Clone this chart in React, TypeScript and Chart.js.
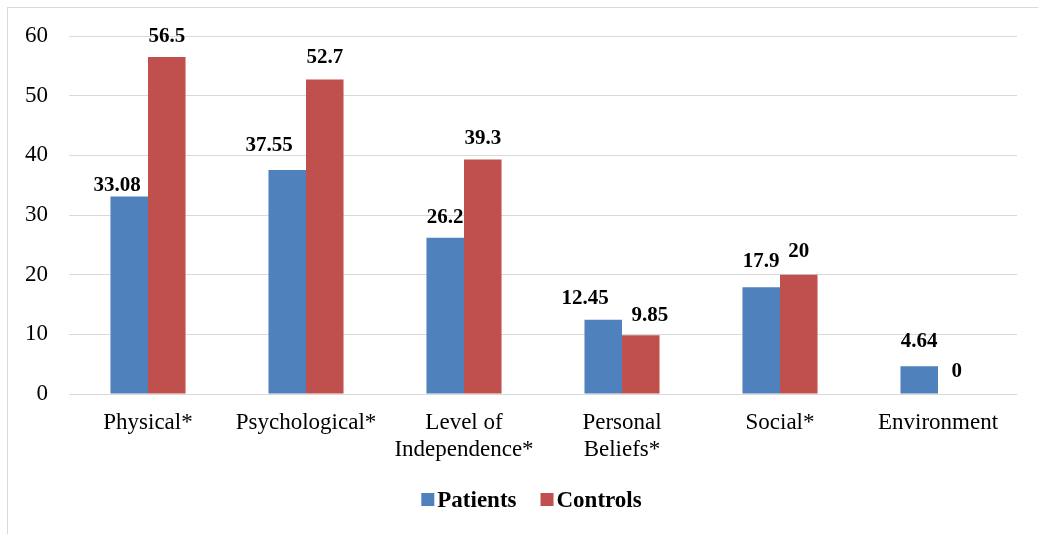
import React, { useEffect, useRef } from "react";
import { Chart, registerables } from "chart.js";

Chart.register(...registerables);

const CATEGORIES: (string | string[])[] = [
  "Physical*",
  "Psychological*",
  ["Level of", "Independence*"],
  ["Personal", "Beliefs*"],
  "Social*",
  "Environment",
];
const PATIENTS = [33.08, 37.55, 26.2, 12.45, 17.9, 4.64];
const CONTROLS = [56.5, 52.7, 39.3, 9.85, 20, 0];
const SERIES_NAMES = ["Patients", "Controls"];
const Y_MIN = 0;
const Y_MAX = 60;
const Y_STEP = 10;

// label nudges (style only): horizontal shift and gap above bar top
const LABEL_DX = [
  [-12, -18, 0, -18, 0, 0],
  [0, 0, 0, 9, 0, 0],
];
const LABEL_GAP = [
  [6, 19, 15, 16, 20, 19],
  [15, 17, 16, 14, 18, 17],
];

const FONT = "'Liberation Serif', 'Times New Roman', serif";
const BLUE = "#4F81BD";
const RED = "#C0504D";

const dataLabelPlugin = {
  id: "dataLabels",
  afterDatasetsDraw(chart: any) {
    const ctx = chart.ctx;
    ctx.save();
    ctx.font = `bold 21px ${FONT}`;
    ctx.fillStyle = "#000";
    ctx.textAlign = "center";
    ctx.textBaseline = "alphabetic";
    chart.data.datasets.forEach((ds: any, di: number) => {
      const meta = chart.getDatasetMeta(di);
      meta.data.forEach((el: any, i: number) => {
        const v = ds.data[i];
        ctx.fillText(String(v), el.x + LABEL_DX[di][i], el.y - LABEL_GAP[di][i]);
      });
    });
    ctx.restore();
  },
};

const legendPlugin = {
  id: "customLegend",
  afterDraw(chart: any) {
    const ctx = chart.ctx;
    ctx.save();
    ctx.font = `bold 23px ${FONT}`;
    ctx.textBaseline = "alphabetic";
    ctx.textAlign = "left";
    const box = 13;
    const gap = 3;
    const spacing = 24;
    const items = chart.data.datasets.map((ds: any) => ({
      text: ds.label,
      color: ds.backgroundColor,
      w: ctx.measureText(ds.label).width,
    }));
    let total = 0;
    items.forEach((it: any, i: number) => {
      total += box + gap + it.w + (i > 0 ? spacing : 0);
    });
    let x = 531.5 - total / 2;
    const baseline = 507;
    items.forEach((it: any) => {
      ctx.fillStyle = it.color;
      ctx.fillRect(x, 493, box, box);
      x += box + gap;
      ctx.fillStyle = "#000";
      ctx.fillText(it.text, x, baseline);
      x += it.w + spacing;
    });
    ctx.restore();
  },
};

export default function App() {
  const ref = useRef<HTMLCanvasElement | null>(null);

  useEffect(() => {
    document.body.style.overflow = "hidden";
    const canvas = ref.current!;
    const chart = new Chart(canvas, {
      type: "bar",
      data: {
        labels: CATEGORIES,
        datasets: [
          {
            label: SERIES_NAMES[0],
            data: PATIENTS,
            backgroundColor: BLUE,
            borderWidth: 0,
            categoryPercentage: 0.475,
            barPercentage: 1,
          },
          {
            label: SERIES_NAMES[1],
            data: CONTROLS,
            backgroundColor: RED,
            borderWidth: 0,
            categoryPercentage: 0.475,
            barPercentage: 1,
          },
        ],
      },
      options: {
        responsive: false,
        animation: false,
        devicePixelRatio: 1,
        layout: { padding: { left: 0, right: 21, top: 36, bottom: 60 } },
        plugins: {
          legend: { display: false },
          tooltip: { enabled: false },
        },
        scales: {
          x: {
            grid: { display: false, drawTicks: false },
            border: { display: false },
            ticks: {
              color: "#000",
              padding: 16,
              maxRotation: 0,
              autoSkip: false,
              font: { family: FONT, size: 23, lineHeight: 1.15 },
            },
            afterFit: (s: any) => {
              s.height = 80;
            },
          },
          y: {
            min: Y_MIN,
            max: Y_MAX,
            ticks: {
              stepSize: Y_STEP,
              color: "#000",
              padding: 21,
              font: { family: FONT, size: 23 },
            },
            grid: { color: "#D9D9D9", lineWidth: 1, drawTicks: false },
            border: { display: false },
            afterFit: (s: any) => {
              s.width = 69;
            },
          },
        },
      },
      plugins: [dataLabelPlugin, legendPlugin],
    });
    return () => chart.destroy();
  }, []);

  return (
    <div style={{ position: "fixed", left: 0, top: 0, width: 1038, height: 534, overflow: "hidden", background: "#fff" }}>
      <div
        style={{
          position: "absolute",
          left: 7,
          top: 7,
          width: 1200,
          height: 800,
          border: "1px solid #D9D9D9",
        }}
      />
      <canvas
        ref={ref}
        width={1038}
        height={534}
        style={{ position: "absolute", left: 0, top: 0, width: 1038, height: 534 }}
      />
    </div>
  );
}
